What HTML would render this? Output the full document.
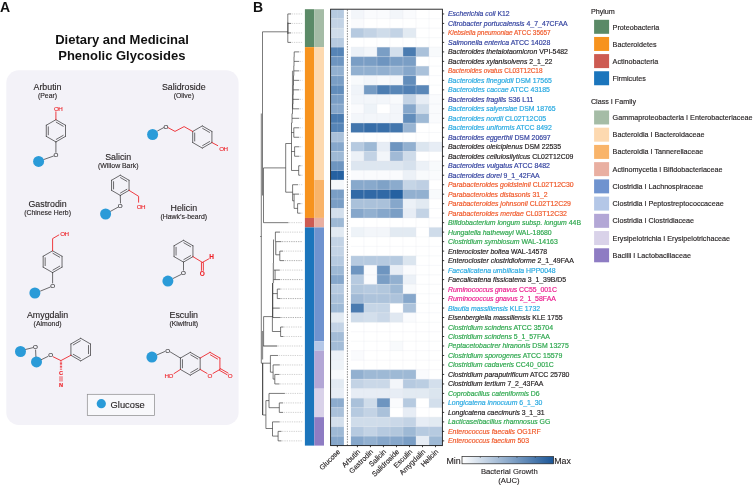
<!DOCTYPE html>
<html lang="en"><head><meta charset="utf-8"><title>Dietary and Medicinal Phenolic Glycosides</title>
<style>
html,body{margin:0;padding:0;background:#fff}
body{width:753px;height:485px;overflow:hidden}
svg{display:block;will-change:transform;font-family:'Liberation Sans', sans-serif}
</style></head><body>
<svg width="753" height="485" viewBox="0 0 753 485">
<rect width="753" height="485" fill="#fff"/>
<g id="panelA">
<text x="0" y="11.95" font-size="14" font-weight="bold" fill="#111">A</text>
<g font-size="13" font-weight="bold" fill="#111" text-anchor="middle"><text x="122" y="44">Dietary and Medicinal</text><text x="121.8" y="59.8">Phenolic Glycosides</text></g>
<rect x="6.3" y="70.3" width="232.3" height="354.7" rx="12.5" ry="12.5" fill="#f3f2f8"/>
<text x="47.5" y="89.6" font-size="8.83" text-anchor="middle" fill="#231f20" stroke="#231f20" stroke-width=".12">Arbutin</text><text x="47.5" y="98" font-size="6.9" text-anchor="middle" fill="#231f20" stroke="#231f20" stroke-width=".12">(Pear)</text>
<path d="M55.9 119.7L65.51 125.25" stroke="#353537" stroke-width="0.72" fill="none" stroke-linecap="round"/><path d="M65.51 125.25L65.51 136.35" stroke="#353537" stroke-width="0.72" fill="none" stroke-linecap="round"/><path d="M65.51 136.35L55.9 141.9" stroke="#353537" stroke-width="0.72" fill="none" stroke-linecap="round"/><path d="M55.9 141.9L46.29 136.35" stroke="#353537" stroke-width="0.72" fill="none" stroke-linecap="round"/><path d="M46.29 136.35L46.29 125.25" stroke="#353537" stroke-width="0.72" fill="none" stroke-linecap="round"/><path d="M46.29 125.25L55.9 119.7" stroke="#353537" stroke-width="0.72" fill="none" stroke-linecap="round"/><path d="M56.25 122.21L63.17 126.21" stroke="#353537" stroke-width="0.72" fill="none" stroke-linecap="round"/><path d="M63.17 135.39L56.25 139.39" stroke="#353537" stroke-width="0.72" fill="none" stroke-linecap="round"/><path d="M48.29 134.8L48.29 126.8" stroke="#353537" stroke-width="0.72" fill="none" stroke-linecap="round"/>
<path d="M55.9 119.7L55.9 111.8" stroke="#ee2228" stroke-width="0.88" fill="none" stroke-linecap="round"/>
<text x="58.15" y="110.95" font-size="6.25" fill="#ee2228" stroke="#ee2228" stroke-width=".12" text-anchor="middle" letter-spacing="-.5">OH</text>
<path d="M55.9 141.9L55.9 152.4" stroke="#353537" stroke-width="0.72" fill="none" stroke-linecap="round"/>
<text x="55.9" y="157.25" font-size="6.25" fill="#353537" stroke="#353537" stroke-width=".12" text-anchor="middle">O</text>
<path d="M53.4 156.1L43.6 159.6" stroke="#353537" stroke-width="0.72" fill="none" stroke-linecap="round"/>
<circle cx="38.6" cy="161.4" r="5.5" fill="#2a9bd8"/>
<text x="183.8" y="89.6" font-size="8.83" text-anchor="middle" fill="#231f20" stroke="#231f20" stroke-width=".12">Salidroside</text><text x="183.8" y="98" font-size="6.9" text-anchor="middle" fill="#231f20" stroke="#231f20" stroke-width=".12">(Olive)</text>
<path d="M202.3 125.9L211.91 131.45" stroke="#353537" stroke-width="0.72" fill="none" stroke-linecap="round"/><path d="M211.91 131.45L211.91 142.55" stroke="#353537" stroke-width="0.72" fill="none" stroke-linecap="round"/><path d="M211.91 142.55L202.3 148.1" stroke="#353537" stroke-width="0.72" fill="none" stroke-linecap="round"/><path d="M202.3 148.1L192.69 142.55" stroke="#353537" stroke-width="0.72" fill="none" stroke-linecap="round"/><path d="M192.69 142.55L192.69 131.45" stroke="#353537" stroke-width="0.72" fill="none" stroke-linecap="round"/><path d="M192.69 131.45L202.3 125.9" stroke="#353537" stroke-width="0.72" fill="none" stroke-linecap="round"/><path d="M202.65 128.41L209.57 132.41" stroke="#353537" stroke-width="0.72" fill="none" stroke-linecap="round"/><path d="M209.57 141.59L202.65 145.59" stroke="#353537" stroke-width="0.72" fill="none" stroke-linecap="round"/><path d="M194.69 141L194.69 133" stroke="#353537" stroke-width="0.72" fill="none" stroke-linecap="round"/>
<circle cx="152.6" cy="134.5" r="5.5" fill="#2a9bd8"/>
<path d="M157.6 130.9L163.6 127.7" stroke="#353537" stroke-width="0.72" fill="none" stroke-linecap="round"/>
<text x="165.9" y="128.95" font-size="6.25" fill="#353537" stroke="#353537" stroke-width=".12" text-anchor="middle">O</text>
<path d="M168.2 127.7L175 131.4L184.1 126.6L192.69 131.45" stroke="#ee2228" stroke-width="0.88" fill="none" stroke-linejoin="round" stroke-linecap="round"/>
<path d="M211.91 142.55L217.7 145.6" stroke="#ee2228" stroke-width="0.88" fill="none" stroke-linecap="round"/>
<text x="223.45" y="150.55" font-size="6.25" fill="#ee2228" stroke="#ee2228" stroke-width=".12" text-anchor="middle" letter-spacing="-.5">OH</text>
<text x="118.2" y="160" font-size="8.83" text-anchor="middle" fill="#231f20" stroke="#231f20" stroke-width=".12">Salicin</text><text x="118.2" y="168.4" font-size="6.9" text-anchor="middle" fill="#231f20" stroke="#231f20" stroke-width=".12">(Willow Bark)</text>
<path d="M120.3 175.2L129.05 180.25" stroke="#353537" stroke-width="0.72" fill="none" stroke-linecap="round"/><path d="M129.05 180.25L129.05 190.35" stroke="#353537" stroke-width="0.72" fill="none" stroke-linecap="round"/><path d="M129.05 190.35L120.3 195.4" stroke="#353537" stroke-width="0.72" fill="none" stroke-linecap="round"/><path d="M120.3 195.4L111.55 190.35" stroke="#353537" stroke-width="0.72" fill="none" stroke-linecap="round"/><path d="M111.55 190.35L111.55 180.25" stroke="#353537" stroke-width="0.72" fill="none" stroke-linecap="round"/><path d="M111.55 180.25L120.3 175.2" stroke="#353537" stroke-width="0.72" fill="none" stroke-linecap="round"/><path d="M120.52 177.64L126.82 181.28" stroke="#353537" stroke-width="0.72" fill="none" stroke-linecap="round"/><path d="M126.82 189.32L120.52 192.96" stroke="#353537" stroke-width="0.72" fill="none" stroke-linecap="round"/><path d="M113.55 188.94L113.55 181.66" stroke="#353537" stroke-width="0.72" fill="none" stroke-linecap="round"/>
<path d="M129.05 190.35L138.6 196.3V202.2" stroke="#ee2228" stroke-width="0.88" fill="none" stroke-linejoin="round" stroke-linecap="round"/>
<text x="140.95" y="208.75" font-size="6.25" fill="#ee2228" stroke="#ee2228" stroke-width=".12" text-anchor="middle" letter-spacing="-.5">OH</text>
<path d="M120.3 195.4L120.5 203" stroke="#353537" stroke-width="0.72" fill="none" stroke-linecap="round"/>
<text x="120.3" y="208.05" font-size="6.25" fill="#353537" stroke="#353537" stroke-width=".12" text-anchor="middle">O</text>
<path d="M118 207.2L110.4 211.4" stroke="#353537" stroke-width="0.72" fill="none" stroke-linecap="round"/>
<circle cx="105.6" cy="214" r="5.5" fill="#2a9bd8"/>
<text x="47.6" y="206.7" font-size="8.83" text-anchor="middle" fill="#231f20" stroke="#231f20" stroke-width=".12">Gastrodin</text><text x="47.6" y="215.1" font-size="6.9" text-anchor="middle" fill="#231f20" stroke="#231f20" stroke-width=".12">(Chinese Herb)</text>
<path d="M52.6 250.8L62.04 256.25" stroke="#353537" stroke-width="0.72" fill="none" stroke-linecap="round"/><path d="M62.04 256.25L62.04 267.15" stroke="#353537" stroke-width="0.72" fill="none" stroke-linecap="round"/><path d="M62.04 267.15L52.6 272.6" stroke="#353537" stroke-width="0.72" fill="none" stroke-linecap="round"/><path d="M52.6 272.6L43.16 267.15" stroke="#353537" stroke-width="0.72" fill="none" stroke-linecap="round"/><path d="M43.16 267.15L43.16 256.25" stroke="#353537" stroke-width="0.72" fill="none" stroke-linecap="round"/><path d="M43.16 256.25L52.6 250.8" stroke="#353537" stroke-width="0.72" fill="none" stroke-linecap="round"/><path d="M52.92 253.3L59.72 257.22" stroke="#353537" stroke-width="0.72" fill="none" stroke-linecap="round"/><path d="M59.72 266.18L52.92 270.1" stroke="#353537" stroke-width="0.72" fill="none" stroke-linecap="round"/><path d="M45.16 265.62L45.16 257.78" stroke="#353537" stroke-width="0.72" fill="none" stroke-linecap="round"/>
<path d="M52.6 250.8V238.6L58.8 235" stroke="#ee2228" stroke-width="0.88" fill="none" stroke-linejoin="round" stroke-linecap="round"/>
<text x="64.45" y="235.85" font-size="6.25" fill="#ee2228" stroke="#ee2228" stroke-width=".12" text-anchor="middle" letter-spacing="-.5">OH</text>
<path d="M52.6 272.6L52.6 283" stroke="#353537" stroke-width="0.72" fill="none" stroke-linecap="round"/>
<text x="52.6" y="288.05" font-size="6.25" fill="#353537" stroke="#353537" stroke-width=".12" text-anchor="middle">O</text>
<path d="M50.2 287.1L40.6 291" stroke="#353537" stroke-width="0.72" fill="none" stroke-linecap="round"/>
<circle cx="34.9" cy="293" r="5.5" fill="#2a9bd8"/>
<text x="183.8" y="210.5" font-size="8.83" text-anchor="middle" fill="#231f20" stroke="#231f20" stroke-width=".12">Helicin</text><text x="183.8" y="218.9" font-size="6.9" text-anchor="middle" fill="#231f20" stroke="#231f20" stroke-width=".12">(Hawk’s-beard)</text>
<path d="M183.5 240.3L192.94 245.75" stroke="#353537" stroke-width="0.72" fill="none" stroke-linecap="round"/><path d="M192.94 245.75L192.94 256.65" stroke="#353537" stroke-width="0.72" fill="none" stroke-linecap="round"/><path d="M192.94 256.65L183.5 262.1" stroke="#353537" stroke-width="0.72" fill="none" stroke-linecap="round"/><path d="M183.5 262.1L174.06 256.65" stroke="#353537" stroke-width="0.72" fill="none" stroke-linecap="round"/><path d="M174.06 256.65L174.06 245.75" stroke="#353537" stroke-width="0.72" fill="none" stroke-linecap="round"/><path d="M174.06 245.75L183.5 240.3" stroke="#353537" stroke-width="0.72" fill="none" stroke-linecap="round"/><path d="M183.82 242.8L190.62 246.72" stroke="#353537" stroke-width="0.72" fill="none" stroke-linecap="round"/><path d="M190.62 255.68L183.82 259.6" stroke="#353537" stroke-width="0.72" fill="none" stroke-linecap="round"/><path d="M176.06 255.12L176.06 247.28" stroke="#353537" stroke-width="0.72" fill="none" stroke-linecap="round"/>
<path d="M192.94 256.65L202.4 262.4" stroke="#ee2228" stroke-width="0.88" fill="none" stroke-linecap="round"/>
<path d="M202.4 262.4L208.6 259" stroke="#ee2228" stroke-width="0.88" fill="none" stroke-linecap="round"/>
<text x="211.5" y="259.34" font-size="6.5" fill="#ee2228" stroke="#ee2228" stroke-width=".12" text-anchor="middle" font-weight="bold">H</text>
<path d="M201.45 262.6L201.45 270.4" stroke="#ee2228" stroke-width="0.88" fill="none" stroke-linecap="round"/><path d="M203.35 262.6L203.35 270.4" stroke="#ee2228" stroke-width="0.88" fill="none" stroke-linecap="round"/>
<text x="202.4" y="275.84" font-size="6.5" fill="#ee2228" stroke="#ee2228" stroke-width=".12" text-anchor="middle" font-weight="bold">O</text>
<path d="M183.5 262.1L183.5 270.2" stroke="#353537" stroke-width="0.72" fill="none" stroke-linecap="round"/>
<text x="183.5" y="275.35" font-size="6.25" fill="#353537" stroke="#353537" stroke-width=".12" text-anchor="middle">O</text>
<path d="M181.2 274.4L173 278.5" stroke="#353537" stroke-width="0.72" fill="none" stroke-linecap="round"/>
<circle cx="167.9" cy="281.1" r="5.5" fill="#2a9bd8"/>
<text x="47.6" y="318" font-size="8.83" text-anchor="middle" fill="#231f20" stroke="#231f20" stroke-width=".12">Amygdalin</text><text x="47.6" y="326.4" font-size="6.9" text-anchor="middle" fill="#231f20" stroke="#231f20" stroke-width=".12">(Almond)</text>
<circle cx="20.5" cy="351.5" r="5.5" fill="#2a9bd8"/>
<circle cx="36.5" cy="361.9" r="5.5" fill="#2a9bd8"/>
<path d="M25.8 349.4L32.8 347.7" stroke="#353537" stroke-width="0.72" fill="none" stroke-linecap="round"/>
<text x="35.5" y="349.25" font-size="6.25" fill="#353537" stroke="#353537" stroke-width=".12" text-anchor="middle">O</text>
<path d="M35.6 350L35.9 356.5" stroke="#353537" stroke-width="0.72" fill="none" stroke-linecap="round"/>
<path d="M41.3 359.7L48 356.4" stroke="#353537" stroke-width="0.72" fill="none" stroke-linecap="round"/>
<text x="50.7" y="357.35" font-size="6.25" fill="#353537" stroke="#353537" stroke-width=".12" text-anchor="middle">O</text>
<path d="M53.2 356.8L60.9 360.6" stroke="#ee2228" stroke-width="0.88" fill="none" stroke-linecap="round"/>
<path d="M80.7 338.3L90.49 343.95" stroke="#353537" stroke-width="0.72" fill="none" stroke-linecap="round"/><path d="M90.49 343.95L90.49 355.25" stroke="#353537" stroke-width="0.72" fill="none" stroke-linecap="round"/><path d="M90.49 355.25L80.7 360.9" stroke="#353537" stroke-width="0.72" fill="none" stroke-linecap="round"/><path d="M80.7 360.9L70.91 355.25" stroke="#353537" stroke-width="0.72" fill="none" stroke-linecap="round"/><path d="M70.91 355.25L70.91 343.95" stroke="#353537" stroke-width="0.72" fill="none" stroke-linecap="round"/><path d="M70.91 343.95L80.7 338.3" stroke="#353537" stroke-width="0.72" fill="none" stroke-linecap="round"/><path d="M88.49 345.53L88.49 353.67" stroke="#353537" stroke-width="0.72" fill="none" stroke-linecap="round"/><path d="M80.33 358.38L73.28 354.31" stroke="#353537" stroke-width="0.72" fill="none" stroke-linecap="round"/><path d="M73.28 344.89L80.33 340.82" stroke="#353537" stroke-width="0.72" fill="none" stroke-linecap="round"/>
<path d="M60.9 360.6L70.91 355.25" stroke="#ee2228" stroke-width="0.88" fill="none" stroke-linecap="round"/>
<path d="M61 361.8V369.6" stroke="#ee2228" stroke-width="2.2" stroke-dasharray=".7 .7" fill="none"/>
<text x="61" y="375.02" font-size="5.6" fill="#ee2228" stroke="#ee2228" stroke-width=".12" text-anchor="middle" font-weight="bold">C</text>
<path d="M59.8 376.2V381.5M61 376.2V381.5M62.2 376.2V381.5" stroke="#ee2228" stroke-width=".55" fill="none"/>
<text x="61" y="386.72" font-size="5.6" fill="#ee2228" stroke="#ee2228" stroke-width=".12" text-anchor="middle" font-weight="bold">N</text>
<text x="183.8" y="318" font-size="8.83" text-anchor="middle" fill="#231f20" stroke="#231f20" stroke-width=".12">Esculin</text><text x="183.8" y="326.4" font-size="6.9" text-anchor="middle" fill="#231f20" stroke="#231f20" stroke-width=".12">(Kiwifruit)</text>
<path d="M190.3 352.35L200.17 358.05" stroke="#353537" stroke-width="0.72" fill="none" stroke-linecap="round"/><path d="M200.17 358.05L200.17 369.45" stroke="#353537" stroke-width="0.72" fill="none" stroke-linecap="round"/><path d="M200.17 369.45L190.3 375.15" stroke="#353537" stroke-width="0.72" fill="none" stroke-linecap="round"/><path d="M190.3 375.15L180.43 369.45" stroke="#353537" stroke-width="0.72" fill="none" stroke-linecap="round"/><path d="M180.43 369.45L180.43 358.05" stroke="#353537" stroke-width="0.72" fill="none" stroke-linecap="round"/><path d="M180.43 358.05L190.3 352.35" stroke="#353537" stroke-width="0.72" fill="none" stroke-linecap="round"/><path d="M190.68 354.88L197.79 358.98" stroke="#353537" stroke-width="0.72" fill="none" stroke-linecap="round"/><path d="M197.79 368.52L190.68 372.62" stroke="#353537" stroke-width="0.72" fill="none" stroke-linecap="round"/><path d="M182.43 367.85L182.43 359.65" stroke="#353537" stroke-width="0.72" fill="none" stroke-linecap="round"/>
<path d="M210.05 352.35L219.92 358.05" stroke="#ee2228" stroke-width="0.88" fill="none" stroke-linecap="round"/><path d="M219.92 358.05L219.92 369.45" stroke="#ee2228" stroke-width="0.88" fill="none" stroke-linecap="round"/><path d="M200.17 358.05L210.05 352.35" stroke="#ee2228" stroke-width="0.88" fill="none" stroke-linecap="round"/><path d="M210.43 354.88L217.54 358.98" stroke="#ee2228" stroke-width="0.88" fill="none" stroke-linecap="round"/>
<path d="M219.92 369.45L213.01 373.44" stroke="#ee2228" stroke-width="0.88" fill="none" stroke-linecap="round"/>
<path d="M200.17 369.45L207.08 373.44" stroke="#ee2228" stroke-width="0.88" fill="none" stroke-linecap="round"/>
<text x="210.05" y="377.6" font-size="6.25" fill="#ee2228" stroke="#ee2228" stroke-width=".12" text-anchor="middle">O</text>
<path d="M219.44 370.27L227.14 374.72" stroke="#ee2228" stroke-width="0.88" fill="none" stroke-linecap="round"/><path d="M220.39 368.63L228.09 373.07" stroke="#ee2228" stroke-width="0.88" fill="none" stroke-linecap="round"/>
<text x="230.09" y="377.6" font-size="6.25" fill="#ee2228" stroke="#ee2228" stroke-width=".12" text-anchor="middle">O</text>
<circle cx="151.9" cy="357.1" r="5.5" fill="#2a9bd8"/>
<path d="M157.2 354.8L164.6 351.6" stroke="#353537" stroke-width="0.72" fill="none" stroke-linecap="round"/>
<text x="167.6" y="352.75" font-size="6.25" fill="#353537" stroke="#353537" stroke-width=".12" text-anchor="middle">O</text>
<path d="M170.4 352L180.43 358.05" stroke="#353537" stroke-width="0.72" fill="none" stroke-linecap="round"/>
<path d="M180.43 369.45L174 373.6" stroke="#ee2228" stroke-width="0.88" fill="none" stroke-linecap="round"/>
<text x="168.65" y="377.95" font-size="6.25" fill="#ee2228" stroke="#ee2228" stroke-width=".12" text-anchor="middle" letter-spacing="-.5">HO</text>
<rect x="87.3" y="394.3" width="67.1" height="21.1" fill="#f8f8fb" stroke="#8a8a8c" stroke-width=".7"/>
<circle cx="101.3" cy="403.7" r="4.6" fill="#2a9bd8"/>
<text x="110.6" y="407.5" font-size="9.3" fill="#231f20" stroke="#231f20" stroke-width=".12">Glucose</text>
</g>
<g id="tree" fill="none">
<path d="M291.6 13.94H302.6 M291.6 23.43H302.6 M291.6 32.92H302.6 M291.6 42.4H302.6 M289.1 222.66H302.6 M299.8 51.89H302.6 M299.8 61.38H302.6 M299.8 70.87H302.6 M299.8 80.35H302.6 M299.8 89.84H302.6 M299.8 99.33H302.6 M299.8 108.81H302.6 M299.8 118.3H302.6 M299.8 127.79H302.6 M299.8 137.27H302.6 M300 146.76H302.6 M300 156.25H302.6 M301.2 165.74H302.6 M301.2 175.22H302.6 M298.6 184.71H302.6 M299.6 194.2H302.6 M301.2 203.68H302.6 M301.2 213.17H302.6 M280.6 232.14H302.6 M283.6 251.12H302.6 M280.4 270.09H302.6 M281.1 289.07H302.6 M280.4 308.04H302.6 M284.1 327.01H302.6 M284.1 336.5H302.6 M278 345.99H302.6 M278.6 355.48H302.6 M280.4 364.96H302.6 M280.1 374.45H302.6 M280.1 383.94H302.6 M285.5 393.42H302.6 M283.6 402.91H302.6 M283.6 412.4H302.6 M280.3 421.88H302.6 M282.1 431.37H302.6 M282.1 440.86H302.6" stroke="#b4b4b4" stroke-width=".6" stroke-dasharray="1.3 1"/>
<path d="M282 241.63H302.6 M284.6 260.61H302.6 M280.6 279.58H302.6 M281.1 298.55H302.6 M281.2 317.53H302.6" stroke="#858585" stroke-width=".65" stroke-dasharray="1.3 1"/>
<path d="M287.9 22.43V33.92 M292.6 70.87V108.81 M292.8 194.2H299 M275.2 232.14H280 M273.4 263V283 M275.7 241.63V254.8 M274 270.09H279.8 M272.6 308.04H279.8 M263.4 345.99H277.3 M262.5 331V359.5 M273.1 364.96H279.8" stroke="#8e8e8e" stroke-width="1.3"/>
<path d="M262.5 31.8V195.5 M261.3 113.5V363.2 M262.5 31.8H287.8 M260.2 236.5H261.3 M287.8 13.94V42.4 M287.8 13.94H291 M287.8 23.43H291 M287.8 32.92H291 M287.8 42.4H291 M263.5 167.9V222.66 M263.5 167.9H285.7 M263.5 222.66H288.5 M285.7 143.5V192.2 M285.7 143.5H291.4 M294.2 51.89H299.2 M294.2 51.89V56.63 M294 56.63V61.38 M294 56.63H294.2 M294 61.38H299.2 M294 61.38V66.12 M293.8 66.12V70.87 M293.8 66.12H294 M293.8 70.87H299.2 M293.8 70.87V75.61 M293.5 75.61V80.35 M293.5 75.61H293.8 M293.5 80.35H299.2 M293.5 80.35V85.1 M293.2 85.1V89.84 M293.2 85.1H293.5 M293.2 89.84H299.2 M293.2 89.84V94.58 M292.9 94.58V99.33 M292.9 94.58H293.2 M292.9 99.33H299.2 M292.9 99.33V104.07 M292.5 104.07V108.81 M292.5 104.07H292.9 M292.5 108.81H299.2 M292.5 108.81V113.56 M292 113.56V118.3 M292 113.56H292.5 M292 118.3H299.2 M292 118.3V123.04 M291.5 123.04V170.48 M291.5 123.04H292 M293.8 127.79V137.27 M291.5 132.53H293.8 M293.8 127.79H299.2 M293.8 137.27H299.2 M294.6 146.76V156.25 M291.5 151.5H294.6 M294.6 146.76H299.4 M294.6 156.25H299.4 M298.7 165.74V175.22 M291.5 170.48H298.7 M298.7 165.74H300.6 M298.7 175.22H300.6 M285.7 192.2H292.6 M292.6 184.71V200.8 M292.6 184.71H298 M292.6 200.8H294.1 M294.1 194.2V208.4 M294.1 208.4H297.6 M297.6 203.68V213.17 M297.6 203.68H300.6 M297.6 213.17H300.6 M275.4 232.14V241.63 M275.4 241.63H281.4 M273.5 239.5V263 M275.7 254.8H279.8 M279.8 251.12V260.61 M279.8 251.12H283 M279.8 260.61H284 M275.1 270.09V279.58 M273.5 279.58H280 M273 293.6H277.3 M277.3 289.07V298.55 M277.3 289.07H280.5 M277.3 298.55H280.5 M272.6 317.53H280.6 M263.6 316.6H272.6 M263.6 316.6V346.2 M272.4 317.53V331.5 M272.4 331.5H280.6 M280.6 327.01V336.5 M280.6 327.01H283.5 M280.6 336.5H283.5 M261.3 363.2H270.4 M270.4 355.48V372.2 M270.4 355.48H278 M270.4 372.2H273.1 M273.1 364.96V379.1 M273.1 379.1H274.8 M274.8 374.45V383.94 M274.8 374.45H279.5 M274.8 383.94H279.5 M262.7 415H265.9 M265.9 400.6V428.5 M265.9 400.6H269 M269 393.42V407.7 M269 393.42H284.9 M269 407.7H279.3 M279.3 402.91V412.4 M279.3 402.91H283 M279.3 412.4H283 M265.9 428.5H272.5 M272.5 421.88V436.1 M272.5 421.88H279.7 M272.5 436.1H278.1 M278.1 431.37V440.86 M278.1 431.37H281.5 M278.1 440.86H281.5" stroke="#333" stroke-width=".65"/>
<path d="M272.7 283V317.53 M262.7 363.2V415" stroke="#1c1c1c" stroke-width=".95"/>
</g>
<g id="panelB">
<text x="253" y="11.95" font-size="14" font-weight="bold" fill="#111">B</text>
<rect x="304.9" y="9.2" width="9.4" height="37.95" fill="#5b8a67"/>
<rect x="304.9" y="47.15" width="9.4" height="170.77" fill="#f7931e"/>
<rect x="304.9" y="217.91" width="9.4" height="9.49" fill="#cd5b52"/>
<rect x="304.9" y="227.4" width="9.4" height="218.2" fill="#1b75bc"/>
<rect x="314.3" y="9.2" width="9.7" height="37.95" fill="#a5bca6"/>
<rect x="314.3" y="47.15" width="9.7" height="132.82" fill="#fdd9b0"/>
<rect x="314.3" y="179.97" width="9.7" height="37.95" fill="#f9b46a"/>
<rect x="314.3" y="217.91" width="9.7" height="9.49" fill="#e9afa1"/>
<rect x="314.3" y="227.4" width="9.7" height="113.84" fill="#6f93cf"/>
<rect x="314.3" y="341.25" width="9.7" height="9.49" fill="#b4c7e7"/>
<rect x="314.3" y="350.73" width="9.7" height="37.95" fill="#b3a7d6"/>
<rect x="314.3" y="388.68" width="9.7" height="28.46" fill="#d9d2e9"/>
<rect x="314.3" y="417.14" width="9.7" height="28.46" fill="#8e7cc3"/>
<g shape-rendering="auto">
<rect x="330.8" y="9.2" width="13.1" height="9.54" fill="#b6cae0"/>
<rect x="350.9" y="9.2" width="13.07" height="9.54" fill="#f3f6fa"/>
<rect x="363.92" y="9.2" width="13.07" height="9.54" fill="#fafbfd"/>
<rect x="376.94" y="9.2" width="13.07" height="9.54" fill="#fafbfd"/>
<rect x="389.96" y="9.2" width="13.07" height="9.54" fill="#f3f6fa"/>
<rect x="402.98" y="9.2" width="13.07" height="9.54" fill="#fafbfd"/>
<rect x="330.8" y="18.69" width="13.1" height="9.54" fill="#c3d3e5"/>
<rect x="350.9" y="18.69" width="13.07" height="9.54" fill="#fafbfd"/>
<rect x="330.8" y="28.17" width="13.1" height="9.54" fill="#cfdcea"/>
<rect x="350.9" y="28.17" width="13.07" height="9.54" fill="#b6cae0"/>
<rect x="363.92" y="28.17" width="13.07" height="9.54" fill="#c3d3e5"/>
<rect x="376.94" y="28.17" width="13.07" height="9.54" fill="#cfdcea"/>
<rect x="389.96" y="28.17" width="13.07" height="9.54" fill="#c3d3e5"/>
<rect x="402.98" y="28.17" width="13.07" height="9.54" fill="#e2eaf2"/>
<rect x="330.8" y="37.66" width="13.1" height="9.54" fill="#b6cae0"/>
<rect x="330.8" y="47.15" width="13.1" height="9.54" fill="#5684b6"/>
<rect x="350.9" y="47.15" width="13.07" height="9.54" fill="#ecf1f7"/>
<rect x="363.92" y="47.15" width="13.07" height="9.54" fill="#f3f6fa"/>
<rect x="376.94" y="47.15" width="13.07" height="9.54" fill="#7a9ec5"/>
<rect x="389.96" y="47.15" width="13.07" height="9.54" fill="#d3dfec"/>
<rect x="402.98" y="47.15" width="13.07" height="9.54" fill="#4a7bb0"/>
<rect x="416" y="47.15" width="13.07" height="9.54" fill="#aac1da"/>
<rect x="429.02" y="47.15" width="13.07" height="9.54" fill="#f8fafc"/>
<rect x="330.8" y="56.64" width="13.1" height="9.54" fill="#6e95c0"/>
<rect x="350.9" y="56.64" width="13.07" height="9.54" fill="#7a9ec5"/>
<rect x="363.92" y="56.64" width="13.07" height="9.54" fill="#7a9ec5"/>
<rect x="376.94" y="56.64" width="13.07" height="9.54" fill="#6e95c0"/>
<rect x="389.96" y="56.64" width="13.07" height="9.54" fill="#7a9ec5"/>
<rect x="402.98" y="56.64" width="13.07" height="9.54" fill="#7a9ec5"/>
<rect x="330.8" y="66.12" width="13.1" height="9.54" fill="#92b0d0"/>
<rect x="350.9" y="66.12" width="13.07" height="9.54" fill="#92b0d0"/>
<rect x="363.92" y="66.12" width="13.07" height="9.54" fill="#92b0d0"/>
<rect x="376.94" y="66.12" width="13.07" height="9.54" fill="#92b0d0"/>
<rect x="389.96" y="66.12" width="13.07" height="9.54" fill="#99b5d3"/>
<rect x="402.98" y="66.12" width="13.07" height="9.54" fill="#86a7cb"/>
<rect x="416" y="66.12" width="13.07" height="9.54" fill="#aac1da"/>
<rect x="330.8" y="75.61" width="13.1" height="9.54" fill="#7a9ec5"/>
<rect x="350.9" y="75.61" width="13.07" height="9.54" fill="#f8fafc"/>
<rect x="363.92" y="75.61" width="13.07" height="9.54" fill="#f3f6fa"/>
<rect x="376.94" y="75.61" width="13.07" height="9.54" fill="#f8fafc"/>
<rect x="389.96" y="75.61" width="13.07" height="9.54" fill="#f3f6fa"/>
<rect x="402.98" y="75.61" width="13.07" height="9.54" fill="#628dbb"/>
<rect x="330.8" y="85.1" width="13.1" height="9.54" fill="#628dbb"/>
<rect x="350.9" y="85.1" width="13.07" height="9.54" fill="#f0f4f9"/>
<rect x="363.92" y="85.1" width="13.07" height="9.54" fill="#759bc3"/>
<rect x="376.94" y="85.1" width="13.07" height="9.54" fill="#4c7db1"/>
<rect x="389.96" y="85.1" width="13.07" height="9.54" fill="#5886b7"/>
<rect x="402.98" y="85.1" width="13.07" height="9.54" fill="#5180b4"/>
<rect x="416" y="85.1" width="13.07" height="9.54" fill="#5a87b8"/>
<rect x="330.8" y="94.58" width="13.1" height="9.54" fill="#7a9ec5"/>
<rect x="350.9" y="94.58" width="13.07" height="9.54" fill="#f3f6fa"/>
<rect x="363.92" y="94.58" width="13.07" height="9.54" fill="#f3f6fa"/>
<rect x="376.94" y="94.58" width="13.07" height="9.54" fill="#f3f6fa"/>
<rect x="389.96" y="94.58" width="13.07" height="9.54" fill="#f8fafc"/>
<rect x="402.98" y="94.58" width="13.07" height="9.54" fill="#c3d3e5"/>
<rect x="416" y="94.58" width="13.07" height="9.54" fill="#e7edf5"/>
<rect x="429.02" y="94.58" width="13.07" height="9.54" fill="#fafbfd"/>
<rect x="330.8" y="104.07" width="13.1" height="9.54" fill="#86a7cb"/>
<rect x="350.9" y="104.07" width="13.07" height="9.54" fill="#fafbfd"/>
<rect x="363.92" y="104.07" width="13.07" height="9.54" fill="#eef3f8"/>
<rect x="389.96" y="104.07" width="13.07" height="9.54" fill="#f3f6fa"/>
<rect x="402.98" y="104.07" width="13.07" height="9.54" fill="#86a7cb"/>
<rect x="416" y="104.07" width="13.07" height="9.54" fill="#cfdcea"/>
<rect x="429.02" y="104.07" width="13.07" height="9.54" fill="#fafbfd"/>
<rect x="330.8" y="113.56" width="13.1" height="9.54" fill="#4a7bb0"/>
<rect x="350.9" y="113.56" width="13.07" height="9.54" fill="#f3f6fa"/>
<rect x="363.92" y="113.56" width="13.07" height="9.54" fill="#f3f6fa"/>
<rect x="376.94" y="113.56" width="13.07" height="9.54" fill="#f3f6fa"/>
<rect x="389.96" y="113.56" width="13.07" height="9.54" fill="#f3f6fa"/>
<rect x="402.98" y="113.56" width="13.07" height="9.54" fill="#628dbb"/>
<rect x="416" y="113.56" width="13.07" height="9.54" fill="#9eb9d5"/>
<rect x="429.02" y="113.56" width="13.07" height="9.54" fill="#fafbfd"/>
<rect x="330.8" y="123.04" width="13.1" height="9.54" fill="#5684b6"/>
<rect x="350.9" y="123.04" width="13.07" height="9.54" fill="#4276ad"/>
<rect x="363.92" y="123.04" width="13.07" height="9.54" fill="#366da8"/>
<rect x="376.94" y="123.04" width="13.07" height="9.54" fill="#396fa9"/>
<rect x="389.96" y="123.04" width="13.07" height="9.54" fill="#4276ad"/>
<rect x="402.98" y="123.04" width="13.07" height="9.54" fill="#99b5d3"/>
<rect x="330.8" y="132.53" width="13.1" height="9.54" fill="#aac1da"/>
<rect x="330.8" y="142.02" width="13.1" height="9.54" fill="#86a7cb"/>
<rect x="350.9" y="142.02" width="13.07" height="9.54" fill="#b6cae0"/>
<rect x="363.92" y="142.02" width="13.07" height="9.54" fill="#9eb9d5"/>
<rect x="376.94" y="142.02" width="13.07" height="9.54" fill="#e7edf5"/>
<rect x="389.96" y="142.02" width="13.07" height="9.54" fill="#6e95c0"/>
<rect x="402.98" y="142.02" width="13.07" height="9.54" fill="#92b0d0"/>
<rect x="416" y="142.02" width="13.07" height="9.54" fill="#dbe5ef"/>
<rect x="429.02" y="142.02" width="13.07" height="9.54" fill="#e7edf5"/>
<rect x="330.8" y="151.5" width="13.1" height="9.54" fill="#9eb9d5"/>
<rect x="350.9" y="151.5" width="13.07" height="9.54" fill="#ecf1f7"/>
<rect x="363.92" y="151.5" width="13.07" height="9.54" fill="#c3d3e5"/>
<rect x="376.94" y="151.5" width="13.07" height="9.54" fill="#f3f6fa"/>
<rect x="389.96" y="151.5" width="13.07" height="9.54" fill="#a1bad6"/>
<rect x="402.98" y="151.5" width="13.07" height="9.54" fill="#cfdcea"/>
<rect x="330.8" y="160.99" width="13.1" height="9.54" fill="#6e95c0"/>
<rect x="350.9" y="160.99" width="13.07" height="9.54" fill="#dde6f0"/>
<rect x="363.92" y="160.99" width="13.07" height="9.54" fill="#dde6f0"/>
<rect x="376.94" y="160.99" width="13.07" height="9.54" fill="#dde6f0"/>
<rect x="389.96" y="160.99" width="13.07" height="9.54" fill="#dde6f0"/>
<rect x="402.98" y="160.99" width="13.07" height="9.54" fill="#d6e1ed"/>
<rect x="416" y="160.99" width="13.07" height="9.54" fill="#ecf1f7"/>
<rect x="429.02" y="160.99" width="13.07" height="9.54" fill="#f8fafc"/>
<rect x="330.8" y="170.48" width="13.1" height="9.54" fill="#2561a1"/>
<rect x="350.9" y="170.48" width="13.07" height="9.54" fill="#fafbfd"/>
<rect x="363.92" y="170.48" width="13.07" height="9.54" fill="#fafbfd"/>
<rect x="376.94" y="170.48" width="13.07" height="9.54" fill="#fafbfd"/>
<rect x="389.96" y="170.48" width="13.07" height="9.54" fill="#fafbfd"/>
<rect x="402.98" y="170.48" width="13.07" height="9.54" fill="#ecf1f7"/>
<rect x="416" y="170.48" width="13.07" height="9.54" fill="#f8fafc"/>
<rect x="429.02" y="170.48" width="13.07" height="9.54" fill="#fafbfd"/>
<rect x="330.8" y="179.97" width="13.1" height="9.54" fill="#f5f8fb"/>
<rect x="350.9" y="179.97" width="13.07" height="9.54" fill="#88a9cc"/>
<rect x="363.92" y="179.97" width="13.07" height="9.54" fill="#88a9cc"/>
<rect x="376.94" y="179.97" width="13.07" height="9.54" fill="#7fa2c7"/>
<rect x="389.96" y="179.97" width="13.07" height="9.54" fill="#8babcd"/>
<rect x="402.98" y="179.97" width="13.07" height="9.54" fill="#c5d5e6"/>
<rect x="416" y="179.97" width="13.07" height="9.54" fill="#becfe3"/>
<rect x="330.8" y="189.45" width="13.1" height="9.54" fill="#7a9ec5"/>
<rect x="350.9" y="189.45" width="13.07" height="9.54" fill="#3169a6"/>
<rect x="363.92" y="189.45" width="13.07" height="9.54" fill="#3169a6"/>
<rect x="376.94" y="189.45" width="13.07" height="9.54" fill="#3169a6"/>
<rect x="389.96" y="189.45" width="13.07" height="9.54" fill="#2561a1"/>
<rect x="402.98" y="189.45" width="13.07" height="9.54" fill="#92b0d0"/>
<rect x="416" y="189.45" width="13.07" height="9.54" fill="#92b0d0"/>
<rect x="429.02" y="189.45" width="13.07" height="9.54" fill="#f8fafc"/>
<rect x="330.8" y="198.94" width="13.1" height="9.54" fill="#7a9ec5"/>
<rect x="350.9" y="198.94" width="13.07" height="9.54" fill="#aac1da"/>
<rect x="363.92" y="198.94" width="13.07" height="9.54" fill="#aac1da"/>
<rect x="376.94" y="198.94" width="13.07" height="9.54" fill="#aac1da"/>
<rect x="389.96" y="198.94" width="13.07" height="9.54" fill="#86a7cb"/>
<rect x="402.98" y="198.94" width="13.07" height="9.54" fill="#ecf1f7"/>
<rect x="416" y="198.94" width="13.07" height="9.54" fill="#e2eaf2"/>
<rect x="330.8" y="208.43" width="13.1" height="9.54" fill="#d3dfec"/>
<rect x="350.9" y="208.43" width="13.07" height="9.54" fill="#86a7cb"/>
<rect x="363.92" y="208.43" width="13.07" height="9.54" fill="#92b0d0"/>
<rect x="376.94" y="208.43" width="13.07" height="9.54" fill="#86a7cb"/>
<rect x="389.96" y="208.43" width="13.07" height="9.54" fill="#7a9ec5"/>
<rect x="402.98" y="208.43" width="13.07" height="9.54" fill="#e7edf5"/>
<rect x="416" y="208.43" width="13.07" height="9.54" fill="#c3d3e5"/>
<rect x="330.8" y="217.91" width="13.1" height="9.54" fill="#9eb9d5"/>
<rect x="330.8" y="227.4" width="13.1" height="9.54" fill="#e2eaf2"/>
<rect x="350.9" y="227.4" width="13.07" height="9.54" fill="#eef3f8"/>
<rect x="363.92" y="227.4" width="13.07" height="9.54" fill="#f3f6fa"/>
<rect x="376.94" y="227.4" width="13.07" height="9.54" fill="#f3f6fa"/>
<rect x="389.96" y="227.4" width="13.07" height="9.54" fill="#e2eaf2"/>
<rect x="402.98" y="227.4" width="13.07" height="9.54" fill="#e2eaf2"/>
<rect x="429.02" y="227.4" width="13.07" height="9.54" fill="#cfdcea"/>
<rect x="330.8" y="236.89" width="13.1" height="9.54" fill="#c3d3e5"/>
<rect x="330.8" y="246.38" width="13.1" height="9.54" fill="#c3d3e5"/>
<rect x="330.8" y="255.86" width="13.1" height="9.54" fill="#b6cae0"/>
<rect x="350.9" y="255.86" width="13.07" height="9.54" fill="#b6cae0"/>
<rect x="363.92" y="255.86" width="13.07" height="9.54" fill="#b6cae0"/>
<rect x="376.94" y="255.86" width="13.07" height="9.54" fill="#b6cae0"/>
<rect x="389.96" y="255.86" width="13.07" height="9.54" fill="#b6cae0"/>
<rect x="402.98" y="255.86" width="13.07" height="9.54" fill="#dbe5ef"/>
<rect x="330.8" y="265.35" width="13.1" height="9.54" fill="#9eb9d5"/>
<rect x="350.9" y="265.35" width="13.07" height="9.54" fill="#6e95c0"/>
<rect x="363.92" y="265.35" width="13.07" height="9.54" fill="#fafbfd"/>
<rect x="376.94" y="265.35" width="13.07" height="9.54" fill="#6e95c0"/>
<rect x="389.96" y="265.35" width="13.07" height="9.54" fill="#e7edf5"/>
<rect x="402.98" y="265.35" width="13.07" height="9.54" fill="#fafbfd"/>
<rect x="330.8" y="274.84" width="13.1" height="9.54" fill="#86a7cb"/>
<rect x="350.9" y="274.84" width="13.07" height="9.54" fill="#b6cae0"/>
<rect x="363.92" y="274.84" width="13.07" height="9.54" fill="#fafbfd"/>
<rect x="376.94" y="274.84" width="13.07" height="9.54" fill="#7a9ec5"/>
<rect x="389.96" y="274.84" width="13.07" height="9.54" fill="#92b0d0"/>
<rect x="402.98" y="274.84" width="13.07" height="9.54" fill="#ecf1f7"/>
<rect x="330.8" y="284.32" width="13.1" height="9.54" fill="#b6cae0"/>
<rect x="350.9" y="284.32" width="13.07" height="9.54" fill="#b2c7dd"/>
<rect x="363.92" y="284.32" width="13.07" height="9.54" fill="#b6cae0"/>
<rect x="376.94" y="284.32" width="13.07" height="9.54" fill="#b2c7dd"/>
<rect x="389.96" y="284.32" width="13.07" height="9.54" fill="#9eb9d5"/>
<rect x="402.98" y="284.32" width="13.07" height="9.54" fill="#f8fafc"/>
<rect x="330.8" y="293.81" width="13.1" height="9.54" fill="#aac1da"/>
<rect x="350.9" y="293.81" width="13.07" height="9.54" fill="#a1bad6"/>
<rect x="363.92" y="293.81" width="13.07" height="9.54" fill="#adc3db"/>
<rect x="376.94" y="293.81" width="13.07" height="9.54" fill="#adc3db"/>
<rect x="389.96" y="293.81" width="13.07" height="9.54" fill="#adc3db"/>
<rect x="402.98" y="293.81" width="13.07" height="9.54" fill="#86a7cb"/>
<rect x="330.8" y="303.3" width="13.1" height="9.54" fill="#9eb9d5"/>
<rect x="350.9" y="303.3" width="13.07" height="9.54" fill="#4a7bb0"/>
<rect x="363.92" y="303.3" width="13.07" height="9.54" fill="#c5d5e6"/>
<rect x="376.94" y="303.3" width="13.07" height="9.54" fill="#c5d5e6"/>
<rect x="402.98" y="303.3" width="13.07" height="9.54" fill="#adc3db"/>
<rect x="330.8" y="312.78" width="13.1" height="9.54" fill="#e2eaf2"/>
<rect x="350.9" y="312.78" width="13.07" height="9.54" fill="#cfdcea"/>
<rect x="363.92" y="312.78" width="13.07" height="9.54" fill="#d3dfec"/>
<rect x="376.94" y="312.78" width="13.07" height="9.54" fill="#cad8e8"/>
<rect x="389.96" y="312.78" width="13.07" height="9.54" fill="#e0e8f1"/>
<rect x="402.98" y="312.78" width="13.07" height="9.54" fill="#fafbfd"/>
<rect x="330.8" y="322.27" width="13.1" height="9.54" fill="#c3d3e5"/>
<rect x="330.8" y="331.76" width="13.1" height="9.54" fill="#a3bcd7"/>
<rect x="330.8" y="341.25" width="13.1" height="9.54" fill="#a3bcd7"/>
<rect x="389.96" y="341.25" width="13.07" height="9.54" fill="#f8fafc"/>
<rect x="330.8" y="350.73" width="13.1" height="9.54" fill="#ecf1f7"/>
<rect x="350.9" y="350.73" width="13.07" height="9.54" fill="#fafbfd"/>
<rect x="330.8" y="360.22" width="13.1" height="9.54" fill="#eef3f8"/>
<rect x="330.8" y="369.71" width="13.1" height="9.54" fill="#f8fafc"/>
<rect x="350.9" y="369.71" width="13.07" height="9.54" fill="#92b0d0"/>
<rect x="363.92" y="369.71" width="13.07" height="9.54" fill="#9eb9d5"/>
<rect x="376.94" y="369.71" width="13.07" height="9.54" fill="#9eb9d5"/>
<rect x="389.96" y="369.71" width="13.07" height="9.54" fill="#9eb9d5"/>
<rect x="402.98" y="369.71" width="13.07" height="9.54" fill="#9eb9d5"/>
<rect x="416" y="369.71" width="13.07" height="9.54" fill="#fafbfd"/>
<rect x="330.8" y="379.19" width="13.1" height="9.54" fill="#e2eaf2"/>
<rect x="350.9" y="379.19" width="13.07" height="9.54" fill="#c3d3e5"/>
<rect x="363.92" y="379.19" width="13.07" height="9.54" fill="#cad8e8"/>
<rect x="376.94" y="379.19" width="13.07" height="9.54" fill="#cad8e8"/>
<rect x="389.96" y="379.19" width="13.07" height="9.54" fill="#f3f6fa"/>
<rect x="402.98" y="379.19" width="13.07" height="9.54" fill="#b6cae0"/>
<rect x="416" y="379.19" width="13.07" height="9.54" fill="#bbcee2"/>
<rect x="429.02" y="379.19" width="13.07" height="9.54" fill="#d3dfec"/>
<rect x="330.8" y="388.68" width="13.1" height="9.54" fill="#e7edf5"/>
<rect x="350.9" y="388.68" width="13.07" height="9.54" fill="#e7edf5"/>
<rect x="363.92" y="388.68" width="13.07" height="9.54" fill="#e7edf5"/>
<rect x="376.94" y="388.68" width="13.07" height="9.54" fill="#e7edf5"/>
<rect x="389.96" y="388.68" width="13.07" height="9.54" fill="#e7edf5"/>
<rect x="402.98" y="388.68" width="13.07" height="9.54" fill="#e2eaf2"/>
<rect x="416" y="388.68" width="13.07" height="9.54" fill="#e2eaf2"/>
<rect x="429.02" y="388.68" width="13.07" height="9.54" fill="#dbe5ef"/>
<rect x="330.8" y="398.17" width="13.1" height="9.54" fill="#8dacce"/>
<rect x="350.9" y="398.17" width="13.07" height="9.54" fill="#aac1da"/>
<rect x="363.92" y="398.17" width="13.07" height="9.54" fill="#cfdcea"/>
<rect x="376.94" y="398.17" width="13.07" height="9.54" fill="#6e95c0"/>
<rect x="389.96" y="398.17" width="13.07" height="9.54" fill="#fafbfd"/>
<rect x="402.98" y="398.17" width="13.07" height="9.54" fill="#b6cae0"/>
<rect x="429.02" y="398.17" width="13.07" height="9.54" fill="#d3dfec"/>
<rect x="330.8" y="407.65" width="13.1" height="9.54" fill="#aac1da"/>
<rect x="350.9" y="407.65" width="13.07" height="9.54" fill="#b6cae0"/>
<rect x="363.92" y="407.65" width="13.07" height="9.54" fill="#c3d3e5"/>
<rect x="376.94" y="407.65" width="13.07" height="9.54" fill="#aac1da"/>
<rect x="402.98" y="407.65" width="13.07" height="9.54" fill="#e7edf5"/>
<rect x="330.8" y="417.14" width="13.1" height="9.54" fill="#d3dfec"/>
<rect x="350.9" y="417.14" width="13.07" height="9.54" fill="#cfdcea"/>
<rect x="363.92" y="417.14" width="13.07" height="9.54" fill="#cfdcea"/>
<rect x="376.94" y="417.14" width="13.07" height="9.54" fill="#cfdcea"/>
<rect x="389.96" y="417.14" width="13.07" height="9.54" fill="#cad8e8"/>
<rect x="402.98" y="417.14" width="13.07" height="9.54" fill="#c3d3e5"/>
<rect x="416" y="417.14" width="13.07" height="9.54" fill="#e7edf5"/>
<rect x="429.02" y="417.14" width="13.07" height="9.54" fill="#e2eaf2"/>
<rect x="330.8" y="426.63" width="13.1" height="9.54" fill="#9eb9d5"/>
<rect x="350.9" y="426.63" width="13.07" height="9.54" fill="#b6cae0"/>
<rect x="363.92" y="426.63" width="13.07" height="9.54" fill="#c3d3e5"/>
<rect x="376.94" y="426.63" width="13.07" height="9.54" fill="#b6cae0"/>
<rect x="389.96" y="426.63" width="13.07" height="9.54" fill="#b2c7dd"/>
<rect x="402.98" y="426.63" width="13.07" height="9.54" fill="#9eb9d5"/>
<rect x="416" y="426.63" width="13.07" height="9.54" fill="#b6cae0"/>
<rect x="429.02" y="426.63" width="13.07" height="9.54" fill="#b6cae0"/>
<rect x="330.8" y="436.12" width="13.1" height="9.54" fill="#86a7cb"/>
<rect x="350.9" y="436.12" width="13.07" height="9.54" fill="#86a7cb"/>
<rect x="363.92" y="436.12" width="13.07" height="9.54" fill="#92b0d0"/>
<rect x="376.94" y="436.12" width="13.07" height="9.54" fill="#86a7cb"/>
<rect x="389.96" y="436.12" width="13.07" height="9.54" fill="#86a7cb"/>
<rect x="402.98" y="436.12" width="13.07" height="9.54" fill="#7a9ec5"/>
<rect x="416" y="436.12" width="13.07" height="9.54" fill="#e7edf5"/>
<rect x="429.02" y="436.12" width="13.07" height="9.54" fill="#9eb9d5"/>
</g>
<path d="M330.8 18.69H343.9 M350.9 18.69H442.04 M330.8 28.17H343.9 M350.9 28.17H442.04 M330.8 37.66H343.9 M350.9 37.66H442.04 M330.8 47.15H343.9 M350.9 47.15H442.04 M330.8 56.64H343.9 M350.9 56.64H442.04 M330.8 66.12H343.9 M350.9 66.12H442.04 M330.8 75.61H343.9 M350.9 75.61H442.04 M330.8 85.1H343.9 M350.9 85.1H442.04 M330.8 94.58H343.9 M350.9 94.58H442.04 M330.8 104.07H343.9 M350.9 104.07H442.04 M330.8 113.56H343.9 M350.9 113.56H442.04 M330.8 123.04H343.9 M350.9 123.04H442.04 M330.8 132.53H343.9 M350.9 132.53H442.04 M330.8 142.02H343.9 M350.9 142.02H442.04 M330.8 151.5H343.9 M350.9 151.5H442.04 M330.8 160.99H343.9 M350.9 160.99H442.04 M330.8 170.48H343.9 M350.9 170.48H442.04 M330.8 179.97H343.9 M350.9 179.97H442.04 M330.8 189.45H343.9 M350.9 189.45H442.04 M330.8 198.94H343.9 M350.9 198.94H442.04 M330.8 208.43H343.9 M350.9 208.43H442.04 M330.8 217.91H343.9 M350.9 217.91H442.04 M330.8 227.4H343.9 M350.9 227.4H442.04 M330.8 236.89H343.9 M350.9 236.89H442.04 M330.8 246.38H343.9 M350.9 246.38H442.04 M330.8 255.86H343.9 M350.9 255.86H442.04 M330.8 265.35H343.9 M350.9 265.35H442.04 M330.8 274.84H343.9 M350.9 274.84H442.04 M330.8 284.32H343.9 M350.9 284.32H442.04 M330.8 293.81H343.9 M350.9 293.81H442.04 M330.8 303.3H343.9 M350.9 303.3H442.04 M330.8 312.78H343.9 M350.9 312.78H442.04 M330.8 322.27H343.9 M350.9 322.27H442.04 M330.8 331.76H343.9 M350.9 331.76H442.04 M330.8 341.25H343.9 M350.9 341.25H442.04 M330.8 350.73H343.9 M350.9 350.73H442.04 M330.8 360.22H343.9 M350.9 360.22H442.04 M330.8 369.71H343.9 M350.9 369.71H442.04 M330.8 379.19H343.9 M350.9 379.19H442.04 M330.8 388.68H343.9 M350.9 388.68H442.04 M330.8 398.17H343.9 M350.9 398.17H442.04 M330.8 407.65H343.9 M350.9 407.65H442.04 M330.8 417.14H343.9 M350.9 417.14H442.04 M330.8 426.63H343.9 M350.9 426.63H442.04 M330.8 436.12H343.9 M350.9 436.12H442.04 M363.92 9.2V445.6 M376.94 9.2V445.6 M389.96 9.2V445.6 M402.98 9.2V445.6 M416 9.2V445.6 M429.02 9.2V445.6" stroke="#e3e7ef" stroke-opacity=".6" stroke-width=".5" fill="none"/>
<path d="M337.35 9.2V445.6" stroke="#fff" stroke-opacity=".18" stroke-width=".5" fill="none"/>
<path d="M347.4 9.7V445.6" stroke="#4a4a4a" stroke-width=".65" stroke-dasharray="1.5 1.1" fill="none"/>
<rect x="330.6" y="9.2" width="111.8" height="436.4" fill="none" stroke="#1a1a1a" stroke-width=".9"/>
<path d="M442.4 13.94h1.8 M442.4 23.43h1.8 M442.4 32.92h1.8 M442.4 42.4h1.8 M442.4 51.89h1.8 M442.4 61.38h1.8 M442.4 70.87h1.8 M442.4 80.35h1.8 M442.4 89.84h1.8 M442.4 99.33h1.8 M442.4 108.81h1.8 M442.4 118.3h1.8 M442.4 127.79h1.8 M442.4 137.27h1.8 M442.4 146.76h1.8 M442.4 156.25h1.8 M442.4 165.74h1.8 M442.4 175.22h1.8 M442.4 184.71h1.8 M442.4 194.2h1.8 M442.4 203.68h1.8 M442.4 213.17h1.8 M442.4 222.66h1.8 M442.4 232.14h1.8 M442.4 241.63h1.8 M442.4 251.12h1.8 M442.4 260.61h1.8 M442.4 270.09h1.8 M442.4 279.58h1.8 M442.4 289.07h1.8 M442.4 298.55h1.8 M442.4 308.04h1.8 M442.4 317.53h1.8 M442.4 327.01h1.8 M442.4 336.5h1.8 M442.4 345.99h1.8 M442.4 355.48h1.8 M442.4 364.96h1.8 M442.4 374.45h1.8 M442.4 383.94h1.8 M442.4 393.42h1.8 M442.4 402.91h1.8 M442.4 412.4h1.8 M442.4 421.88h1.8 M442.4 431.37h1.8 M442.4 440.86h1.8 M337.35 445.6v1.6 M357.41 445.6v1.6 M370.43 445.6v1.6 M383.45 445.6v1.6 M396.47 445.6v1.6 M409.49 445.6v1.6 M422.51 445.6v1.6 M435.53 445.6v1.6" stroke="#1a1a1a" stroke-width=".85" fill="none"/>
<g font-size="6.9" stroke-width=".18">
<text transform="translate(448 16.44) scale(0.9930 1)" fill="#3443a0" stroke="#3443a0"><tspan font-style="italic">Escherichia coli</tspan> K12</text>
<text transform="translate(448 25.93) scale(1.0052 1)" fill="#3443a0" stroke="#3443a0"><tspan font-style="italic">Citrobacter portucalensis</tspan> 4_7_47CFAA</text>
<text transform="translate(448 35.42) scale(0.9325 1)" fill="#f05a2b" stroke="#f05a2b"><tspan font-style="italic">Klebsiella pneumoniae</tspan> ATCC 35657</text>
<text transform="translate(448 44.9) scale(1.0097 1)" fill="#3443a0" stroke="#3443a0"><tspan font-style="italic">Salmonella enterica</tspan> ATCC 14028</text>
<text transform="translate(448 54.39) scale(1.0004 1)" fill="#231f20" stroke="#231f20"><tspan font-style="italic">Bacteroides thetaiotaomicron</tspan> VPI-5482</text>
<text transform="translate(448 63.88) scale(1.0025 1)" fill="#231f20" stroke="#231f20"><tspan font-style="italic">Bacteroides xylanisolvens</tspan> 2_1_22</text>
<text transform="translate(448 73.37) scale(0.9307 1)" fill="#f05a2b" stroke="#f05a2b"><tspan font-style="italic">Bacteroides ovatus</tspan> CL03T12C18</text>
<text transform="translate(448 82.85) scale(1.0005 1)" fill="#27a9e1" stroke="#27a9e1"><tspan font-style="italic">Bacteroides finegoldii</tspan> DSM 17565</text>
<text transform="translate(448 92.34) scale(1.0096 1)" fill="#27a9e1" stroke="#27a9e1"><tspan font-style="italic">Bacteroides caccae</tspan> ATCC 43185</text>
<text transform="translate(448 101.83) scale(1.0011 1)" fill="#3443a0" stroke="#3443a0"><tspan font-style="italic">Bacteroides fragilis</tspan> S36 L11</text>
<text transform="translate(448 111.31) scale(1.0002 1)" fill="#27a9e1" stroke="#27a9e1"><tspan font-style="italic">Bacteroides salyersiae</tspan> DSM 18765</text>
<text transform="translate(448 120.8) scale(1.0001 1)" fill="#27a9e1" stroke="#27a9e1"><tspan font-style="italic">Bacteroides nordii</tspan> CL02T12C05</text>
<text transform="translate(448 130.29) scale(1.0056 1)" fill="#27a9e1" stroke="#27a9e1"><tspan font-style="italic">Bacteroides uniformis</tspan> ATCC 8492</text>
<text transform="translate(448 139.77) scale(0.9973 1)" fill="#3443a0" stroke="#3443a0"><tspan font-style="italic">Bacteroides eggerthii</tspan> DSM 20697</text>
<text transform="translate(448 149.26) scale(1.0029 1)" fill="#231f20" stroke="#231f20"><tspan font-style="italic">Bacteroides oleiciplenus</tspan> DSM 22535</text>
<text transform="translate(448 158.75) scale(1.0029 1)" fill="#231f20" stroke="#231f20"><tspan font-style="italic">Bacteroides cellulosilyticus</tspan> CL02T12C09</text>
<text transform="translate(448 168.24) scale(1.0096 1)" fill="#3443a0" stroke="#3443a0"><tspan font-style="italic">Bacteroides vulgatus</tspan> ATCC 8482</text>
<text transform="translate(448 177.72) scale(1.0024 1)" fill="#3443a0" stroke="#3443a0"><tspan font-style="italic">Bacteroides dorei</tspan> 9_1_42FAA</text>
<text transform="translate(448 187.21) scale(1.0007 1)" fill="#f05a2b" stroke="#f05a2b"><tspan font-style="italic">Parabacteroides goldsteinii</tspan> CL02T12C30</text>
<text transform="translate(448 196.7) scale(0.9978 1)" fill="#f05a2b" stroke="#f05a2b"><tspan font-style="italic">Parabacteroides distasonis</tspan> 31_2</text>
<text transform="translate(448 206.18) scale(1.0060 1)" fill="#f05a2b" stroke="#f05a2b"><tspan font-style="italic">Parabacteroides johnsonii</tspan> CL02T12C29</text>
<text transform="translate(448 215.67) scale(1.0032 1)" fill="#f05a2b" stroke="#f05a2b"><tspan font-style="italic">Parabacteroides merdae</tspan> CL03T12C32</text>
<text transform="translate(448 225.16) scale(1.0015 1)" fill="#2fa84f" stroke="#2fa84f"><tspan font-style="italic">Bifidobacterium longum subsp. longum</tspan> 44B</text>
<text transform="translate(448 234.64) scale(0.9992 1)" fill="#2fa84f" stroke="#2fa84f"><tspan font-style="italic">Hungatella hathewayi</tspan> WAL-18680</text>
<text transform="translate(448 244.13) scale(1.0044 1)" fill="#2fa84f" stroke="#2fa84f"><tspan font-style="italic">Clostridium symbiosum</tspan> WAL-14163</text>
<text transform="translate(448 253.62) scale(0.9983 1)" fill="#231f20" stroke="#231f20"><tspan font-style="italic">Enterocloster boltea</tspan> WAL-14578</text>
<text transform="translate(448 263.11) scale(1.0038 1)" fill="#231f20" stroke="#231f20"><tspan font-style="italic">Enterocloster clostridioforme</tspan> 2_1_49FAA</text>
<text transform="translate(448 272.59) scale(1.0037 1)" fill="#27a9e1" stroke="#27a9e1"><tspan font-style="italic">Faecalicatena umbilicata</tspan> HPP0048</text>
<text transform="translate(448 282.08) scale(1.0054 1)" fill="#231f20" stroke="#231f20"><tspan font-style="italic">Faecalicatena fissicatena</tspan> 3_1_39B/D5</text>
<text transform="translate(448 291.57) scale(0.9999 1)" fill="#ec1c8e" stroke="#ec1c8e"><tspan font-style="italic">Ruminococcus gnavus</tspan> CC55_001C</text>
<text transform="translate(448 301.05) scale(1.0074 1)" fill="#ec1c8e" stroke="#ec1c8e"><tspan font-style="italic">Ruminococcus gnavus</tspan> 2_1_58FAA</text>
<text transform="translate(448 310.54) scale(0.9985 1)" fill="#27a9e1" stroke="#27a9e1"><tspan font-style="italic">Blautia massiliensis</tspan> KLE 1732</text>
<text transform="translate(448 320.03) scale(1.0010 1)" fill="#231f20" stroke="#231f20"><tspan font-style="italic">Eisenbergiella massiliensis</tspan> KLE 1755</text>
<text transform="translate(448 329.51) scale(1.0070 1)" fill="#2fa84f" stroke="#2fa84f"><tspan font-style="italic">Clostridium scindens</tspan> ATCC 35704</text>
<text transform="translate(448 339) scale(1.0045 1)" fill="#2fa84f" stroke="#2fa84f"><tspan font-style="italic">Clostridium scindens</tspan> 5_1_57FAA</text>
<text transform="translate(448 348.49) scale(1.0015 1)" fill="#2fa84f" stroke="#2fa84f"><tspan font-style="italic">Peptacetobactrer hiranonis</tspan> DSM 13275</text>
<text transform="translate(448 357.98) scale(1.0106 1)" fill="#2fa84f" stroke="#2fa84f"><tspan font-style="italic">Clostridium sporogenes</tspan> ATCC 15579</text>
<text transform="translate(448 367.46) scale(1.0024 1)" fill="#2fa84f" stroke="#2fa84f"><tspan font-style="italic">Clostridium cadaveris</tspan> CC40_001C</text>
<text transform="translate(448 376.95) scale(1.0045 1)" fill="#231f20" stroke="#231f20"><tspan font-style="italic">Clostridium paraputrificum</tspan> ATCC 25780</text>
<text transform="translate(448 386.44) scale(1.0021 1)" fill="#231f20" stroke="#231f20"><tspan font-style="italic">Clostridium tertium</tspan> 7_2_43FAA</text>
<text transform="translate(448 395.92) scale(1.0027 1)" fill="#2fa84f" stroke="#2fa84f"><tspan font-style="italic">Coprobacillus cateniformis</tspan> D6</text>
<text transform="translate(448 405.41) scale(1.0023 1)" fill="#27a9e1" stroke="#27a9e1"><tspan font-style="italic">Longicatena innocuum</tspan> 6_1_30</text>
<text transform="translate(448 414.9) scale(0.9935 1)" fill="#231f20" stroke="#231f20"><tspan font-style="italic">Longicatena caecimuris</tspan> 3_1_31</text>
<text transform="translate(448 424.38) scale(1.0010 1)" fill="#2fa84f" stroke="#2fa84f"><tspan font-style="italic">Lacticaseibacillus rhamnosus</tspan> GG</text>
<text transform="translate(448 433.87) scale(1.0010 1)" fill="#f05a2b" stroke="#f05a2b"><tspan font-style="italic">Enterococcus faecalis</tspan> OG1RF</text>
<text transform="translate(448 443.36) scale(0.9986 1)" fill="#f05a2b" stroke="#f05a2b"><tspan font-style="italic">Enterococcus faecium</tspan> 503</text>
</g>
<g font-size="7.1" fill="#231f20" stroke="#231f20" stroke-width=".15" text-anchor="end">
<text transform="translate(340.55 452.2) rotate(-45)">Glucose</text>
<text transform="translate(360.61 452.2) rotate(-45)">Arbutin</text>
<text transform="translate(373.63 452.2) rotate(-45)">Gastrodin</text>
<text transform="translate(386.65 452.2) rotate(-45)">Salicin</text>
<text transform="translate(399.67 452.2) rotate(-45)">Salidroside</text>
<text transform="translate(412.69 452.2) rotate(-45)">Esculin</text>
<text transform="translate(425.71 452.2) rotate(-45)">Amygdalin</text>
<text transform="translate(438.73 452.2) rotate(-45)">Helicin</text>
</g>
<defs><linearGradient id="cb" x1="0" x2="1" y1="0" y2="0"><stop offset="0" stop-color="#fff"/><stop offset="1" stop-color="#1b5698"/></linearGradient></defs>
<rect x="462" y="456.6" width="91.6" height="7.2" fill="url(#cb)" stroke="#222" stroke-width=".7"/>
<path d="M480.32 456.6v1.3 M498.64 456.6v1.3 M516.96 456.6v1.3 M535.28 456.6v1.3" stroke="#222" stroke-width=".5"/>
<g font-size="8.8" fill="#231f20" stroke="#231f20" stroke-width=".12"><text x="446.5" y="464.1">Min</text><text x="554.2" y="464.1">Max</text></g>
<g font-size="7.7" fill="#231f20" stroke="#231f20" stroke-width=".12" text-anchor="middle"><text x="509.3" y="474">Bacterial Growth</text><text x="509" y="483.2">(AUC)</text></g>
<g font-size="7.2" fill="#231f20" stroke="#231f20" stroke-width=".15">
<text x="590.9" y="13.8">Phylum</text>
<rect x="594.1" y="19.8" width="15" height="14" fill="#5b8a67" stroke="none"/>
<text x="612.6" y="30">Proteobacteria</text>
<rect x="594.1" y="36.95" width="15" height="14" fill="#f7931e" stroke="none"/>
<text x="612.6" y="47.15">Bacteroidetes</text>
<rect x="594.1" y="54.1" width="15" height="14" fill="#cd5b52" stroke="none"/>
<text x="612.6" y="64.3">Actinobacteria</text>
<rect x="594.1" y="71.25" width="15" height="14" fill="#1b75bc" stroke="none"/>
<text x="612.6" y="81.45">Firmicutes</text>
<text x="590.9" y="104.3">Class I Family</text>
<rect x="594.1" y="110.45" width="15" height="14" fill="#a5bca6" stroke="none"/>
<text x="612.6" y="119.95">Gammaproteobacteria I Enterobacteriaceae</text>
<rect x="594.1" y="127.68" width="15" height="14" fill="#fdd9b0" stroke="none"/>
<text x="612.6" y="137.18">Bacteroidia I Bacteroidaceae</text>
<rect x="594.1" y="144.91" width="15" height="14" fill="#f9b46a" stroke="none"/>
<text x="612.6" y="154.41">Bacteroidia I Tannerellaceae</text>
<rect x="594.1" y="162.14" width="15" height="14" fill="#e9afa1" stroke="none"/>
<text x="612.6" y="171.64">Actinomycetia I Bifidobacteriaceae</text>
<rect x="594.1" y="179.37" width="15" height="14" fill="#6f93cf" stroke="none"/>
<text x="612.6" y="188.87">Clostridia I Lachnospiraceae</text>
<rect x="594.1" y="196.6" width="15" height="14" fill="#b4c7e7" stroke="none"/>
<text x="612.6" y="206.1">Clostridia I Peptostreptococcaceae</text>
<rect x="594.1" y="213.83" width="15" height="14" fill="#b3a7d6" stroke="none"/>
<text x="612.6" y="223.33">Clostridia I Clostridiaceae</text>
<rect x="594.1" y="231.06" width="15" height="14" fill="#d9d2e9" stroke="none"/>
<text x="612.6" y="240.56">Erysipelotrichia I Erysipelotrichaceae</text>
<rect x="594.1" y="248.29" width="15" height="14" fill="#8e7cc3" stroke="none"/>
<text x="612.6" y="257.79">Bacilli I Lactobacillaceae</text>
</g>
</g>
</svg>
</body></html>
